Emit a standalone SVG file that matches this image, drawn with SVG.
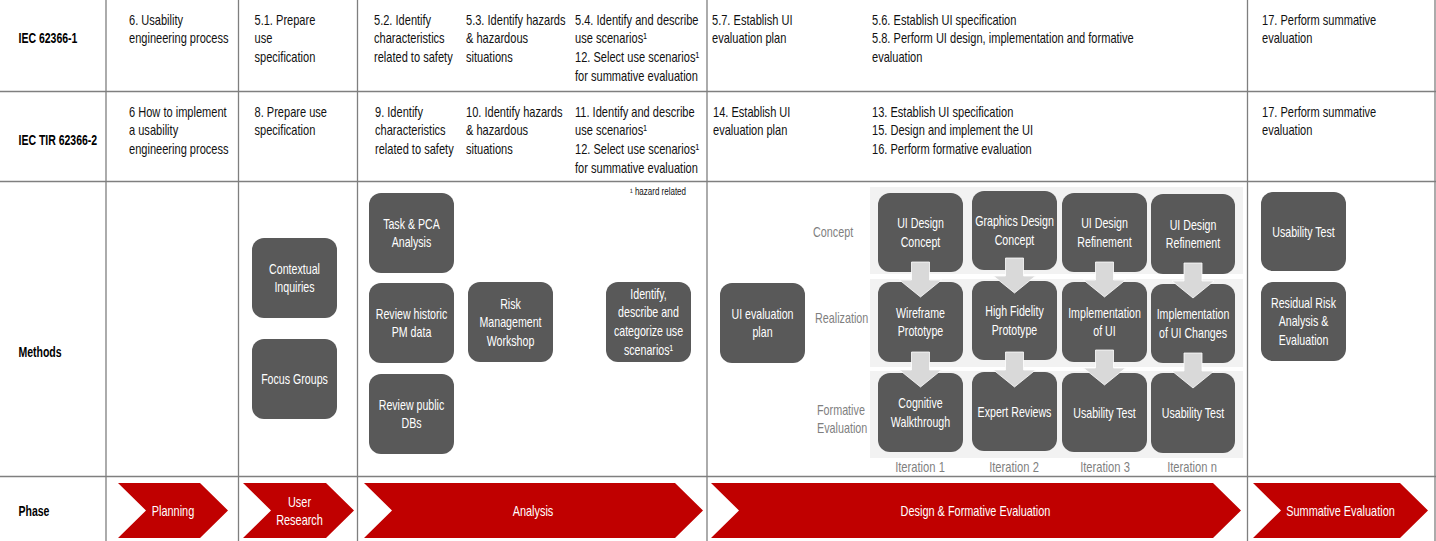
<svg xmlns="http://www.w3.org/2000/svg" xmlns:xlink="http://www.w3.org/1999/xlink" width="1436" height="541" viewBox="0 0 1436 541">
<style>
.t{font-family:"Liberation Sans",Arial,sans-serif;font-size:14px;fill:#111}
.b{font-weight:bold;fill:#000}
.w{fill:#fff;text-anchor:middle}
.g{fill:#7f7f7f}
.m{text-anchor:middle}
.fn{font-size:10px;text-anchor:end}
.box{fill:#595959}
.band{fill:#f2f2f2}
.ph{fill:#c00000}
.grid line{stroke:#7f7f7f;stroke-width:1.3}
.arr{fill:#d9d9d9;stroke:#ffffff;stroke-width:0.8}
</style>
<defs>
<path id="arr" d="M-9,0 H9 V18 H21 L0,35 L-21,18 H-9 Z"/>
</defs>
<rect width="1436" height="541" fill="#fff"/>

<g id="grid" class="grid">
<line x1="0" y1="91.5" x2="1436" y2="91.5"/>
<line x1="0" y1="181.5" x2="1436" y2="181.5"/>
<line x1="0" y1="476.5" x2="1436" y2="476.5"/>
<line x1="106" y1="0" x2="106" y2="541"/>
<line x1="238.5" y1="0" x2="238.5" y2="541"/>
<line x1="357.5" y1="0" x2="357.5" y2="541"/>
<line x1="707" y1="0" x2="707" y2="541"/>
<line x1="1247.5" y1="0" x2="1247.5" y2="541"/>
<line x1="1435" y1="0" x2="1435" y2="541"/>
</g>

<g id="row-labels">
<text class="t b" transform="translate(18.5 42.5) scale(.75 1)">IEC 62366-1</text>
<text class="t b" transform="translate(18.5 145) scale(.75 1)">IEC TIR 62366-2</text>
<text class="t b" transform="translate(18.5 356.5) scale(.75 1)">Methods</text>
<text class="t b" transform="translate(18.5 516) scale(.75 1)">Phase</text>
</g>

<g id="row-iec1">
<text class="t" transform="translate(129 24.5) scale(.79 1)"><tspan x="0">6. Usability</tspan><tspan x="0" dy="19">engineering process</tspan></text>
<text class="t" transform="translate(254.5 24.5) scale(.79 1)"><tspan x="0">5.1. Prepare</tspan><tspan x="0" dy="19">use</tspan><tspan x="0" dy="19">specification</tspan></text>
<text class="t" transform="translate(374 24.5) scale(.79 1)"><tspan x="0">5.2. Identify</tspan><tspan x="0" dy="19">characteristics</tspan><tspan x="0" dy="19">related to safety</tspan></text>
<text class="t" transform="translate(466 24.5) scale(.79 1)"><tspan x="0">5.3. Identify hazards</tspan><tspan x="0" dy="19">&amp; hazardous</tspan><tspan x="0" dy="19">situations</tspan></text>
<text class="t" transform="translate(575 24.5) scale(.79 1)"><tspan x="0">5.4. Identify and describe</tspan><tspan x="0" dy="19">use scenarios¹</tspan><tspan x="0" dy="19">12. Select use scenarios¹</tspan><tspan x="0" dy="19">for summative evaluation</tspan></text>
<text class="t" transform="translate(712 24.5) scale(.79 1)"><tspan x="0">5.7. Establish UI</tspan><tspan x="0" dy="19">evaluation plan</tspan></text>
<text class="t" transform="translate(872 24.5) scale(.79 1)"><tspan x="0">5.6. Establish UI specification</tspan><tspan x="0" dy="19">5.8. Perform UI design, implementation and formative</tspan><tspan x="0" dy="19">evaluation</tspan></text>
<text class="t" transform="translate(1262 24.5) scale(.79 1)"><tspan x="0">17. Perform summative</tspan><tspan x="0" dy="19">evaluation</tspan></text>
</g>

<g id="row-iec2">
<text class="t" transform="translate(129 116.5) scale(.79 1)"><tspan x="0">6 How to implement</tspan><tspan x="0" dy="19">a usability</tspan><tspan x="0" dy="19">engineering process</tspan></text>
<text class="t" transform="translate(254.5 116.5) scale(.79 1)"><tspan x="0">8. Prepare use</tspan><tspan x="0" dy="19">specification</tspan></text>
<text class="t" transform="translate(375 116.5) scale(.79 1)"><tspan x="0">9. Identify</tspan><tspan x="0" dy="19">characteristics</tspan><tspan x="0" dy="19">related to safety</tspan></text>
<text class="t" transform="translate(466 116.5) scale(.79 1)"><tspan x="0">10. Identify hazards</tspan><tspan x="0" dy="19">&amp; hazardous</tspan><tspan x="0" dy="19">situations</tspan></text>
<text class="t" transform="translate(575 116.5) scale(.79 1)"><tspan x="0">11. Identify and describe</tspan><tspan x="0" dy="19">use scenarios¹</tspan><tspan x="0" dy="19">12. Select use scenarios¹</tspan><tspan x="0" dy="19">for summative evaluation</tspan></text>
<text class="t" transform="translate(713 116.5) scale(.79 1)"><tspan x="0">14. Establish UI</tspan><tspan x="0" dy="19">evaluation plan</tspan></text>
<text class="t" transform="translate(872 116.5) scale(.79 1)"><tspan x="0">13. Establish UI specification</tspan><tspan x="0" dy="19">15. Design and implement the UI</tspan><tspan x="0" dy="19">16. Perform formative evaluation</tspan></text>
<text class="t" transform="translate(1262 116.5) scale(.79 1)"><tspan x="0">17. Perform summative</tspan><tspan x="0" dy="19">evaluation</tspan></text>
</g>

<text id="footnote" class="t fn" transform="translate(686 194.5) scale(.8 1)">¹ hazard related</text>

<g id="bands">
<rect class="band" x="870" y="187" width="373" height="87"/>
<rect class="band" x="870" y="279" width="373" height="88"/>
<rect class="band" x="870" y="371" width="373" height="87"/>
</g>

<g id="stage-labels">
<text class="t g" transform="translate(813 237) scale(.77 1)">Concept</text>
<text class="t g" transform="translate(815 323) scale(.77 1)">Realization</text>
<text class="t g" transform="translate(817 415) scale(.77 1)"><tspan x="0">Formative</tspan><tspan x="0" dy="18">Evaluation</tspan></text>
<text class="t g m" transform="translate(920 472) scale(.8 1)">Iteration 1</text>
<text class="t g m" transform="translate(1014 472) scale(.8 1)">Iteration 2</text>
<text class="t g m" transform="translate(1105 472) scale(.8 1)">Iteration 3</text>
<text class="t g m" transform="translate(1192 472) scale(.8 1)">Iteration n</text>
</g>

<g id="n-contextual"><rect class="box" x="252" y="238" width="85" height="80" rx="12"/><text class="t w" transform="translate(294.5 273.5) scale(.76 1)"><tspan x="0">Contextual</tspan><tspan x="0" dy="19">Inquiries</tspan></text></g>
<g id="n-focus"><rect class="box" x="252" y="339" width="85" height="80" rx="12"/><text class="t w" transform="translate(294.5 384) scale(.76 1)">Focus Groups</text></g>
<g id="n-task"><rect class="box" x="369" y="193" width="85" height="80" rx="12"/><text class="t w" transform="translate(411.5 228.5) scale(.76 1)"><tspan x="0">Task &amp; PCA</tspan><tspan x="0" dy="19">Analysis</tspan></text></g>
<g id="n-pm"><rect class="box" x="369" y="283" width="85" height="80" rx="12"/><text class="t w" transform="translate(411.5 318.5) scale(.76 1)"><tspan x="0">Review historic</tspan><tspan x="0" dy="19">PM data</tspan></text></g>
<g id="n-db"><rect class="box" x="369" y="374" width="85" height="80" rx="12"/><text class="t w" transform="translate(411.5 409.5) scale(.76 1)"><tspan x="0">Review public</tspan><tspan x="0" dy="19">DBs</tspan></text></g>
<g id="n-risk"><rect class="box" x="468" y="282" width="85" height="80" rx="12"/><text class="t w" transform="translate(510.5 308.5) scale(.76 1)"><tspan x="0">Risk</tspan><tspan x="0" dy="19">Management</tspan><tspan x="0" dy="19">Workshop</tspan></text></g>
<g id="n-scenarios"><rect class="box" x="606" y="282" width="85" height="80" rx="12"/><text class="t w" transform="translate(648.5 298.5) scale(.76 1)"><tspan x="0">Identify,</tspan><tspan x="0" dy="19">describe and</tspan><tspan x="0" dy="19">categorize use</tspan><tspan x="0" dy="19">scenarios¹</tspan></text></g>
<g id="n-uiplan"><rect class="box" x="720" y="283" width="85" height="80" rx="12"/><text class="t w" transform="translate(762.5 318.5) scale(.76 1)"><tspan x="0">UI evaluation</tspan><tspan x="0" dy="19">plan</tspan></text></g>

<g id="n-c1"><rect class="box" x="878" y="193" width="85" height="79" rx="12"/><text class="t w" transform="translate(920.5 228) scale(.76 1)"><tspan x="0">UI Design</tspan><tspan x="0" dy="19">Concept</tspan></text></g>
<g id="n-c2"><rect class="box" x="972" y="191" width="85" height="79" rx="12"/><text class="t w" transform="translate(1014.5 226) scale(.76 1)"><tspan x="0">Graphics Design</tspan><tspan x="0" dy="19">Concept</tspan></text></g>
<g id="n-c3"><rect class="box" x="1062" y="193" width="85" height="79" rx="12"/><text class="t w" transform="translate(1104.5 228) scale(.76 1)"><tspan x="0">UI Design</tspan><tspan x="0" dy="19">Refinement</tspan></text></g>
<g id="n-c4"><rect class="box" x="1151" y="194" width="84" height="80" rx="12"/><text class="t w" transform="translate(1193 229.5) scale(.76 1)"><tspan x="0">UI Design</tspan><tspan x="0" dy="19">Refinement</tspan></text></g>
<g id="n-r1"><rect class="box" x="878" y="282" width="85" height="80" rx="12"/><text class="t w" transform="translate(920.5 317.5) scale(.76 1)"><tspan x="0">Wireframe</tspan><tspan x="0" dy="19">Prototype</tspan></text></g>
<g id="n-r2"><rect class="box" x="972" y="281" width="85" height="79" rx="12"/><text class="t w" transform="translate(1014.5 316) scale(.76 1)"><tspan x="0">High Fidelity</tspan><tspan x="0" dy="19">Prototype</tspan></text></g>
<g id="n-r3"><rect class="box" x="1062" y="282" width="85" height="80" rx="12"/><text class="t w" transform="translate(1104.5 317.5) scale(.76 1)"><tspan x="0">Implementation</tspan><tspan x="0" dy="19">of UI</tspan></text></g>
<g id="n-r4"><rect class="box" x="1151" y="284" width="84" height="79" rx="12"/><text class="t w" transform="translate(1193 319) scale(.76 1)"><tspan x="0">Implementation</tspan><tspan x="0" dy="19">of UI Changes</tspan></text></g>
<g id="n-f1"><rect class="box" x="878" y="373" width="85" height="79" rx="12"/><text class="t w" transform="translate(920.5 408) scale(.76 1)"><tspan x="0">Cognitive</tspan><tspan x="0" dy="19">Walkthrough</tspan></text></g>
<g id="n-f2"><rect class="box" x="972" y="372" width="85" height="79" rx="12"/><text class="t w" transform="translate(1014.5 416.5) scale(.76 1)">Expert Reviews</text></g>
<g id="n-f3"><rect class="box" x="1062" y="373" width="85" height="79" rx="12"/><text class="t w" transform="translate(1104.5 417.5) scale(.76 1)">Usability Test</text></g>
<g id="n-f4"><rect class="box" x="1151" y="373" width="84" height="80" rx="12"/><text class="t w" transform="translate(1193 418) scale(.76 1)">Usability Test</text></g>

<g id="n-summative-test"><rect class="box" x="1261" y="192" width="85" height="79" rx="12"/><text class="t w" transform="translate(1303.5 236.5) scale(.76 1)">Usability Test</text></g>
<g id="n-residual"><rect class="box" x="1261" y="282" width="85" height="79" rx="12"/><text class="t w" transform="translate(1303.5 307.5) scale(.76 1)"><tspan x="0">Residual Risk</tspan><tspan x="0" dy="19">Analysis &amp;</tspan><tspan x="0" dy="19">Evaluation</tspan></text></g>

<g id="connectors">
<use xlink:href="#arr" class="arr" transform="translate(920.5 262)"/>
<use xlink:href="#arr" class="arr" transform="translate(920.5 352)"/>
<use xlink:href="#arr" class="arr" transform="translate(1014.5 258)"/>
<use xlink:href="#arr" class="arr" transform="translate(1014.5 352)"/>
<use xlink:href="#arr" class="arr" transform="translate(1104.5 262)"/>
<use xlink:href="#arr" class="arr" transform="translate(1104.5 350)"/>
<use xlink:href="#arr" class="arr" transform="translate(1193 263)"/>
<use xlink:href="#arr" class="arr" transform="translate(1193 353)"/>
</g>

<g id="phase-planning"><polygon class="ph" points="118,483 200,483 228,510.5 200,538 118,538 146,510.5"/><text class="t w" transform="translate(173 516) scale(.78 1)">Planning</text></g>
<g id="phase-user-research"><polygon class="ph" points="243,483 326,483 354,510.5 326,538 243,538 271,510.5"/><text class="t w" transform="translate(299.5 506.5) scale(.78 1)"><tspan x="0">User</tspan><tspan x="0" dy="19">Research</tspan></text></g>
<g id="phase-analysis"><polygon class="ph" points="364,483 675,483 703,510.5 675,538 364,538 392,510.5"/><text class="t w" transform="translate(533 516) scale(.78 1)">Analysis</text></g>
<g id="phase-design"><polygon class="ph" points="711,483 1213,483 1241,510.5 1213,538 711,538 739,510.5"/><text class="t w" transform="translate(975.5 516) scale(.78 1)">Design &amp; Formative Evaluation</text></g>
<g id="phase-summative"><polygon class="ph" points="1253,483 1400,483 1428,510.5 1400,538 1253,538 1281,510.5"/><text class="t w" transform="translate(1340.5 516) scale(.78 1)">Summative Evaluation</text></g>
</svg>
